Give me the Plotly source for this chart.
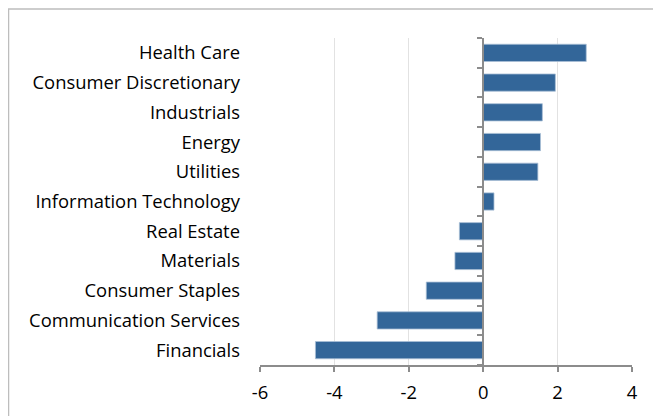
import plotly.graph_objects as go

categories = ["Financials", "Communication Services", "Consumer Staples", "Materials",
              "Real Estate", "Information Technology", "Utilities", "Energy",
              "Industrials", "Consumer Discretionary", "Health Care"]
values = [-4.51, -2.85, -1.53, -0.76, -0.64, 0.29, 1.47, 1.54, 1.59, 1.94, 2.77]
x_ticks = [-6, -4, -2, 0, 2, 4]
x_tick_labels = ["-6", "-4", "-2", "0", "2", "4"]

FONT = "Open Sans"
FS = 18.4
OFF = 8  # page body margin offset
W, H = 661 - OFF, 416 - OFF
L, R, T, B = 260 - OFF, 29, 38 - OFF, 52 - OFF
pw = W - L - R
ph = H - T - B

fig = go.Figure()
fig.add_trace(go.Bar(
    y=categories, x=values, orientation="h",
    marker=dict(color="#336699", line=dict(color="#a9bfd6", width=0.8)),
    hoverinfo="x+y",
))
# invisible trace for the zero-line axis with boundary ticks
fig.add_trace(go.Scatter(
    y=categories, x=[0] * len(categories), yaxis="y2", mode="markers",
    marker=dict(opacity=0), hoverinfo="skip", showlegend=False,
))

xr = [x_ticks[0], x_ticks[-1]]
zero_pos = (0 - xr[0]) / (xr[1] - xr[0])

fig.update_layout(
    width=W, height=H,
    margin=dict(l=L, r=R, t=T, b=B),
    paper_bgcolor="white", plot_bgcolor="white",
    bargap=0.42, showlegend=False,
    font=dict(family=FONT, size=FS, color="#000000"),
    xaxis=dict(
        range=xr, tickmode="array", tickvals=x_ticks, ticktext=x_tick_labels,
        showgrid=True, gridcolor="#e2e2e2", gridwidth=1.3,
        zeroline=False, showline=True, linecolor="#8c8c8c", linewidth=1.5,
        ticks="outside", ticklen=5, tickcolor="#8c8c8c", tickwidth=1.5,
        ticklabelstandoff=5,
        tickfont=dict(family=FONT, size=FS, color="#000000"),
    ),
    yaxis=dict(
        type="category", categoryorder="array", categoryarray=categories,
        range=[-0.5, len(categories) - 0.5],
        showgrid=False, zeroline=False, showline=False, ticks="",
        ticklabelstandoff=19,
        tickfont=dict(family=FONT, size=FS, color="#000000"),
    ),
    yaxis2=dict(
        type="category", categoryorder="array", categoryarray=categories,
        range=[-0.5, len(categories) - 0.5],
        overlaying="y", anchor="free", position=zero_pos, side="left",
        showgrid=False, zeroline=False, showline=True, linecolor="#8c8c8c", linewidth=1.5,
        ticks="outside", tickson="boundaries", ticklen=5, tickcolor="#8c8c8c", tickwidth=1.5,
        showticklabels=False,
    ),
    shapes=[dict(
        type="rect", xref="paper", yref="paper",
        x0=-L / pw + 0.5 / pw, x1=(W + 20 - L) / pw,
        y0=-(B + 20) / ph, y1=(ph + T - 0.5) / ph,
        line=dict(color="#bdbdbd", width=1.5), fillcolor="rgba(0,0,0,0)", layer="below",
    )],
)

fig.write_html("out.html")
